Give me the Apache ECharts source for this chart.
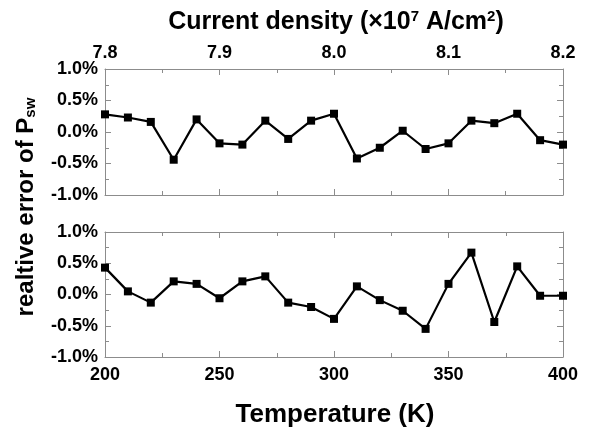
<!DOCTYPE html>
<html>
<head>
<meta charset="utf-8">
<script src="https://cdn.jsdelivr.net/npm/echarts@6/dist/echarts.min.js"></script>
<style>
  html, body { margin: 0; padding: 0; background: #fff; }
  #chart { width: 595px; height: 428px; }
</style>
</head>
<body>
<div id="chart"></div>
<script>
// Datos del panel superior (densidad de corriente)
const corriente = [7.80, 7.82, 7.84, 7.86, 7.88, 7.90, 7.92, 7.94, 7.96, 7.98, 8.00,
                   8.02, 8.04, 8.06, 8.08, 8.10, 8.12, 8.14, 8.16, 8.18, 8.20];
const errorCorriente = [0.28, 0.23, 0.16, -0.44, 0.20, -0.18, -0.20, 0.18, -0.11, 0.18, 0.29,
                        -0.42, -0.25, 0.02, -0.27, -0.18, 0.18, 0.14, 0.29, -0.13, -0.20];

// Datos del panel inferior (temperatura)
const temperatura = [200, 210, 220, 230, 240, 250, 260, 270, 280, 290, 300,
                     310, 320, 330, 340, 350, 360, 370, 380, 390, 400];
const errorTemperatura = [0.43, 0.05, -0.13, 0.21, 0.17, -0.06, 0.21, 0.29, -0.13, -0.20, -0.39,
                          0.13, -0.09, -0.26, -0.55, 0.17, 0.67, -0.44, 0.45, -0.02, -0.02];

const chart = echarts.init(document.getElementById('chart'));

const fuente = 'Liberation Sans, Arial, sans-serif';
const gris = '#8c8c8c';

function ejeX(grid, pos, min, max, interval, labels, fmt) {
    return {
        type: 'value',
        gridIndex: grid,
        position: pos,
        min: min,
        max: max,
        interval: interval,
        axisLine: { show: true, onZero: false, lineStyle: { color: gris, width: 1 } },
        axisTick: { show: true, inside: true, length: 6, lineStyle: { color: gris } },
        minorTick: { show: true, splitNumber: 2, length: 4, lineStyle: { color: gris } },
        splitLine: { show: false },
        axisLabel: {
            show: labels,
            color: '#000',
            fontFamily: fuente,
            fontWeight: 'bold',
            fontSize: 18,
            margin: pos === 'top' ? 7 : 9,
            formatter: fmt
        }
    };
}

function ejeY(grid, pos, labels) {
    return {
        type: 'value',
        gridIndex: grid,
        position: pos,
        min: -1,
        max: 1,
        interval: 0.5,
        axisLine: { show: true, onZero: false, lineStyle: { color: gris, width: 1 } },
        axisTick: { show: true, inside: true, length: 6, lineStyle: { color: gris } },
        minorTick: { show: true, splitNumber: 2, length: 4, lineStyle: { color: gris } },
        splitLine: { show: false },
        axisLabel: {
            show: labels,
            color: '#000',
            fontFamily: fuente,
            fontWeight: 'bold',
            fontSize: 18,
            margin: 7,
            formatter: v => v.toFixed(1) + '%'
        }
    };
}

function serie(xs, ys, idx) {
    return {
        type: 'line',
        xAxisIndex: idx,
        yAxisIndex: idx,
        data: xs.map((x, i) => [x, ys[i]]),
        symbol: 'rect',
        symbolSize: 8,
        lineStyle: { color: '#000', width: 2.2 },
        itemStyle: { color: '#000' },
        animation: false
    };
}

const option = {
    backgroundColor: '#fff',
    animation: false,
    grid: [
        { left: 105, top: 69, width: 458, height: 126 },
        { left: 105, top: 232, width: 458, height: 125 }
    ],
    xAxis: [
        ejeX(0, 'top', 7.8, 8.2, 0.1, true, v => v.toFixed(1)),
        ejeX(1, 'bottom', 200, 400, 50, true, v => String(v)),
        ejeX(0, 'bottom', 7.8, 8.2, 0.1, false),
        ejeX(1, 'top', 200, 400, 50, false)
    ],
    yAxis: [
        ejeY(0, 'left', true),
        ejeY(1, 'left', true),
        ejeY(0, 'right', false),
        ejeY(1, 'right', false)
    ],
    series: [
        serie(corriente, errorCorriente, 0),
        serie(temperatura, errorTemperatura, 1)
    ],
    graphic: [
        {
            type: 'text',
            x: 336,
            y: 22,
            style: {
                text: 'Current density (×10{sup|7} A/cm{sup|2})',
                fontFamily: fuente,
                fontWeight: 'bold',
                fontSize: 25,
                lineHeight: 25,
                fill: '#000',
                align: 'center',
                verticalAlign: 'middle',
                rich: {
                    sup: {
                        fontFamily: fuente,
                        fontWeight: 'bold',
                        fontSize: 15,
                        lineHeight: 6,
                        verticalAlign: 'top',
                        fill: '#000'
                    }
                }
            }
        },
        {
            type: 'text',
            x: 335,
            y: 415,
            style: {
                text: 'Temperature (K)',
                fontFamily: fuente,
                fontWeight: 'bold',
                fontSize: 26,
                fill: '#000',
                align: 'center',
                verticalAlign: 'middle'
            }
        },
        {
            type: 'text',
            x: 26,
            y: 207,
            rotation: Math.PI / 2,
            style: {
                text: 'realtive error of P{sub|sw}',
                fontFamily: fuente,
                fontWeight: 'bold',
                fontSize: 24,
                lineHeight: 24,
                fill: '#000',
                align: 'center',
                verticalAlign: 'middle',
                rich: {
                    sub: {
                        fontFamily: fuente,
                        fontWeight: 'bold',
                        fontSize: 15,
                        lineHeight: 6,
                        verticalAlign: 'bottom',
                        fill: '#000'
                    }
                }
            }
        }
    ]
};

chart.setOption(option);
</script>
</body>
</html>
